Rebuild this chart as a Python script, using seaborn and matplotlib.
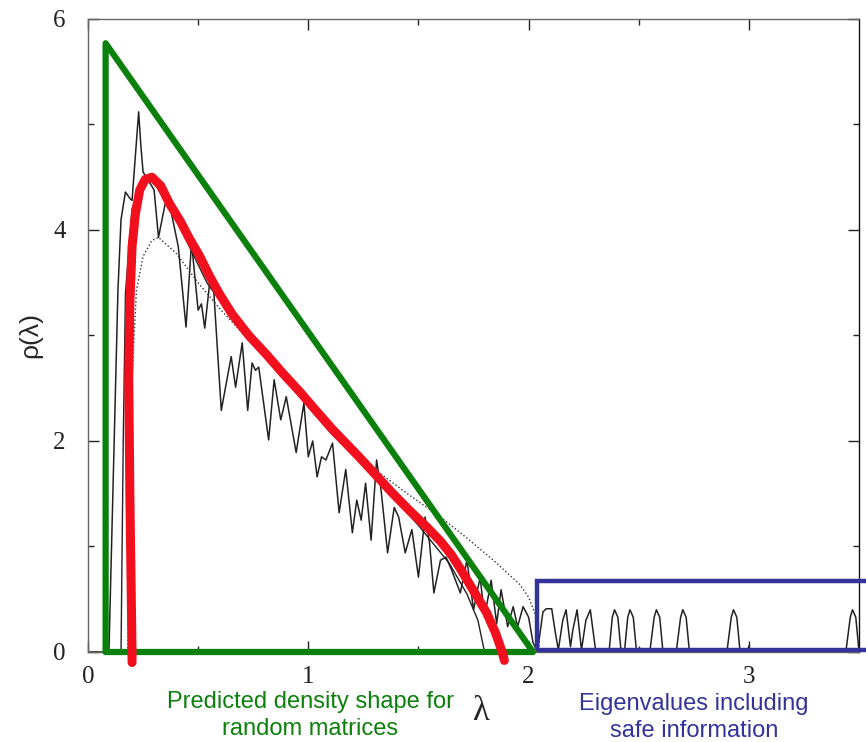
import matplotlib
matplotlib.use("Agg")
import matplotlib.pyplot as plt
import matplotlib.patches as mpatches
import pandas as pd
import seaborn as sns

emp_lambda = [
    0.0, 0.001, 0.095, 0.136, 0.15, 0.17, 0.19, 0.2, 0.215, 0.23, 0.24, 0.25,
    0.3, 0.32, 0.36, 0.41, 0.445, 0.47, 0.5, 0.515, 0.53, 0.555, 0.57, 0.605,
    0.65, 0.67, 0.7, 0.725, 0.745, 0.76, 0.775, 0.82, 0.845, 0.875, 0.9, 0.945,
    0.98, 1.0, 1.02, 1.04, 1.06, 1.08, 1.11, 1.14, 1.17, 1.2, 1.22, 1.24, 1.26,
    1.285, 1.31, 1.33, 1.36, 1.39, 1.41, 1.44, 1.47, 1.5, 1.53, 1.55, 1.57,
    1.6, 1.625, 1.65, 1.69, 1.72, 1.75, 1.78, 1.8, 1.83, 1.855, 1.875, 1.905,
    1.93, 1.95, 1.975, 2.0, 2.02,
    2.04, 2.065, 2.08, 2.105, 2.12, 2.135, 2.155, 2.17, 2.19, 2.2, 2.22, 2.24,
    2.26, 2.28, 2.305, 2.365, 2.38, 2.39, 2.405, 2.42, 2.435, 2.45, 2.46,
    2.475, 2.49, 2.55, 2.57, 2.58, 2.595, 2.61, 2.67, 2.69, 2.7, 2.715, 2.73,
    2.9, 2.92, 2.93, 2.945, 2.96, 2.995, 3.0, 3.005, 3.44, 3.46, 3.47, 3.485,
    3.5,
]
emp_rho = [
    0.8, 0.0, 0.0, 3.43, 4.1, 4.36, 4.3, 4.28, 4.7, 5.12, 4.8, 4.55,
    4.38, 3.93, 4.35, 3.84, 3.08, 3.88, 3.24, 3.3, 3.07, 3.55, 3.45, 2.29,
    2.8, 2.51, 2.93, 2.29, 2.74, 2.67, 2.7, 2.01, 2.58, 2.2, 2.42, 1.89,
    2.36, 1.85, 2.0, 1.66, 1.85, 1.82, 1.98, 1.32, 1.73, 1.13, 1.44, 1.25, 1.6,
    1.06, 1.82, 1.54, 0.94, 1.37, 1.28, 0.94, 1.16, 0.71, 1.28, 1.04, 0.56,
    0.87, 0.9, 0.78, 0.56, 0.87, 0.4, 0.71, 0.33, 0.68, 0.27, 0.59, 0.24,
    0.43, 0.24, 0.43, 0.33, 0.09,
    0.0, 0.38, 0.41, 0.41, 0.2, 0.02, 0.3, 0.4, 0.05, 0.2, 0.4, 0.02,
    0.3, 0.4, 0.0, 0.0, 0.33, 0.4, 0.33, 0.0, 0.0, 0.33, 0.4,
    0.33, 0.0, 0.0, 0.33, 0.4, 0.33, 0.0, 0.0, 0.33, 0.4, 0.33, 0.0,
    0.0, 0.33, 0.4, 0.33, 0.0, 0.0, 0.06, 0.0, 0.0, 0.33, 0.4, 0.33,
    0.0,
]

# smooth theoretical density (thin solid)
fit_lambda = [0.15, 0.16, 0.17, 0.2, 0.25, 0.3, 0.4, 0.54, 0.67, 0.9, 1.1,
              1.31, 1.5, 1.64, 1.72, 1.77, 1.8]
fit_rho = [0.0, 2.0, 3.4, 4.2, 4.5, 4.45, 4.1, 3.5, 3.12, 2.57, 2.08,
           1.64, 1.2, 0.84, 0.55, 0.3, 0.0]

# second theoretical density (dotted)
dot_lambda = [0.18, 0.19, 0.2, 0.22, 0.25, 0.29, 0.32, 0.4, 0.5, 0.6, 0.72,
              0.84, 0.96, 1.1, 1.29, 1.45, 1.6, 1.72, 1.84, 1.96, 2.0, 2.03,
              2.045, 2.05]
dot_rho = [0.0, 1.5, 2.6, 3.43, 3.75, 3.9, 3.93, 3.78, 3.5, 3.25, 2.98,
           2.7, 2.42, 2.1, 1.75, 1.5, 1.28, 1.08, 0.87, 0.64, 0.52, 0.36,
           0.18, 0.0]

# hand-drawn red outline of the predicted shape
red_lambda = [0.2, 0.2, 0.19, 0.185, 0.19, 0.2, 0.215, 0.235, 0.26, 0.29,
              0.33, 0.37, 0.42, 0.46, 0.505, 0.55, 0.595, 0.655, 0.73, 0.81,
              0.885, 0.96, 1.03, 1.11, 1.23, 1.31, 1.38, 1.46, 1.54, 1.6,
              1.65, 1.69, 1.75, 1.81, 1.85, 1.88, 1.89]
red_rho = [-0.1, 0.0, 1.5, 2.6, 3.3, 3.84, 4.15, 4.38, 4.48, 4.5,
           4.42, 4.25, 4.08, 3.92, 3.76, 3.57, 3.4, 3.2, 3.0, 2.82,
           2.64, 2.47, 2.3, 2.11, 1.85, 1.67, 1.51, 1.34, 1.18, 1.05,
           0.92, 0.79, 0.58, 0.37, 0.18, 0.0, -0.08]

# green triangle and blue box
tri_lambda = [0.08, 0.08, 2.02, 0.08]
tri_rho = [0.0, 5.77, 0.0, 0.0]
box_lambda = [2.04, 3.65]
box_rho = [0.02, 0.67]

GREEN = "#0b800b"
BLUE = "#333399"
RED = "#f2101f"

sns.set_theme(style="ticks")
plt.rcParams["font.family"] = ["Liberation Serif", "DejaVu Serif"]

fig = plt.figure(figsize=(8.66, 7.42), dpi=100)
ax = fig.add_axes([0.1016, 0.1213, 0.8904, 0.8531])

emp = pd.DataFrame({"lam": emp_lambda, "rho": emp_rho})
fit = pd.DataFrame({"lam": fit_lambda, "rho": fit_rho})
dot = pd.DataFrame({"lam": dot_lambda, "rho": dot_rho})
red = pd.DataFrame({"lam": red_lambda, "rho": red_rho})
tri = pd.DataFrame({"lam": tri_lambda, "rho": tri_rho})

sns.lineplot(data=emp, x="lam", y="rho", sort=False, estimator=None,
             color="#222222", linewidth=1.1, ax=ax, zorder=2)
sns.lineplot(data=fit, x="lam", y="rho", sort=False, estimator=None,
             color="#222222", linewidth=1.0, ax=ax, zorder=2)
sns.lineplot(data=dot, x="lam", y="rho", sort=False, estimator=None,
             color="#333333", linewidth=1.0, linestyle=":", ax=ax, zorder=2)
sns.lineplot(data=tri, x="lam", y="rho", sort=False, estimator=None,
             color=GREEN, linewidth=4.5, ax=ax, zorder=3, clip_on=False)
sns.lineplot(data=red, x="lam", y="rho", sort=False, estimator=None,
             color=RED, linewidth=6.5, ax=ax, zorder=4, clip_on=False,
             solid_joinstyle="round")

box = mpatches.Rectangle((box_lambda[0], box_rho[0]),
                         box_lambda[1] - box_lambda[0], box_rho[1] - box_rho[0],
                         fill=False, edgecolor=BLUE, linewidth=3.2,
                         clip_on=False, zorder=5)
ax.add_patch(box)

ax.set_xlim(0, 3.5)
ax.set_ylim(0, 6)
ax.set_xticks([0, 1, 2, 3])
ax.set_xticks([0.5, 1.5, 2.5], minor=True)
ax.set_yticks([0, 2, 4, 6])
ax.set_yticks([1, 3, 5], minor=True)
ax.tick_params(which="both", direction="in", top=True, right=True,
               labelsize=18, colors="#222222", width=1)
ax.tick_params(which="major", length=8)
ax.tick_params(axis="x", which="major", pad=10)
ax.tick_params(axis="y", which="major", pad=16)
ax.tick_params(which="minor", length=4)
for side in ax.spines.values():
    side.set_color("#666666")
    side.set_linewidth(1.0)
ax.spines["right"].set_color("#111111")

ax.set_xlabel("")
ax.set_ylabel("ρ(λ)", fontsize=19, labelpad=8,
              family=["Liberation Sans", "DejaVu Sans"])
ax.text(1.78, -0.56, "λ", fontsize=25, ha="center", va="center",
        transform=ax.transData, clip_on=False)

sans = ["Liberation Sans", "DejaVu Sans"]
ax.text(1.01, -0.6, "Predicted density shape for\nrandom matrices",
        color=GREEN, fontsize=17, family=sans, ha="center", va="center",
        linespacing=1.28, clip_on=False)
ax.text(2.75, -0.62, "Eigenvalues including\nsafe information",
        color=BLUE, fontsize=17, family=sans, ha="center", va="center",
        linespacing=1.28, clip_on=False)

fig.savefig("out.png", dpi=100)
